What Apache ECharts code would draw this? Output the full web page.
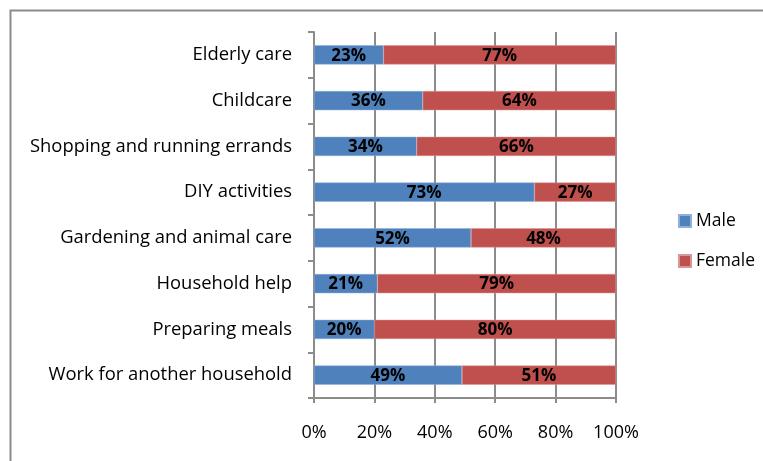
<!DOCTYPE html>
<html><head><meta charset="utf-8">
<script src="https://cdn.jsdelivr.net/npm/echarts@6/dist/echarts.min.js"></script>
<style>html,body{margin:0;padding:0;background:#fff}#c{width:763px;height:461px}</style>
</head><body><div id="c"></div>
<script>
const categories = ["Elderly care","Childcare","Shopping and running errands","DIY activities","Gardening and animal care","Household help","Preparing meals","Work for another household"];
const male = [23,36,34,73,52,21,20,49];
const female = [77,64,66,27,48,79,80,51];
const xTicks = [0,20,40,60,80,100];
const FONT = "'Open Sans',sans-serif";
const chart = echarts.init(document.getElementById('c'));
const lbl = {show:true, position:'inside', offset:[0,1], formatter: p => p.value + '%', color:'#000', fontWeight:'bold', fontSize:17, fontFamily:FONT};
chart.setOption({
  animation:false,
  graphic:[{type:'rect', shape:{x:10.5,y:10.5,width:800,height:500}, style:{fill:'none', stroke:'#8c8c8c', lineWidth:2}}],
  grid:{left:314, top:32, width:302, height:366, containLabel:false},
  legend:{orient:'vertical', left:673, top:207, itemWidth:12, itemHeight:12, itemGap:22, icon:'rect',
    textStyle:{fontSize:17.5, fontFamily:FONT, color:'#000'}, data:['Male','Female']},
  xAxis:{type:'value', min:0, max:100, interval:20,
    axisLine:{show:true, lineStyle:{color:'#8c8c8c', width:2}},
    axisTick:{show:true, length:5, lineStyle:{color:'#8c8c8c', width:2}},
    splitLine:{show:true, lineStyle:{color:'#8c8c8c', width:2}},
    axisLabel:{formatter: v => xTicks.includes(v) ? v + '%' : '', fontSize:18, fontFamily:FONT, color:'#000', margin:26}},
  yAxis:{type:'category', inverse:true, data:categories,
    axisLine:{show:true, lineStyle:{color:'#8c8c8c', width:2}},
    axisTick:{show:true, length:6, lineStyle:{color:'#8c8c8c', width:2}},
    axisLabel:{fontSize:18.4, fontFamily:FONT, color:'#000', margin:22, padding:[4,0,0,0]}},
  series:[
    {name:'Male', type:'bar', stack:'a', data:male, barCategoryGap:'58%', itemStyle:{color:'#4F81BD', borderColor:'#8fb0d9', borderWidth:0.5}, label:lbl},
    {name:'Female', type:'bar', stack:'a', data:female, barCategoryGap:'58%', itemStyle:{color:'#C0504D', borderColor:'#d99694', borderWidth:0.5}, label:lbl}
  ]
});
</script></body></html>
